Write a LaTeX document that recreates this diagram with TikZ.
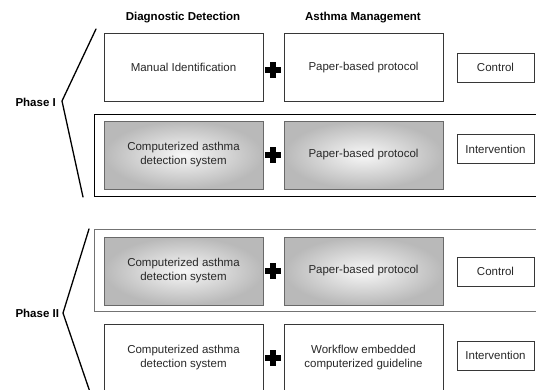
\documentclass[tikz,border=0pt]{standalone}
\usepackage{fontspec}
\setmainfont{Liberation Sans}
\usetikzlibrary{shapes.misc}
\definecolor{boxborder}{RGB}{55,55,55}
\definecolor{shadeborder}{RGB}{105,105,105}
\definecolor{framegray}{RGB}{115,115,115}
\definecolor{textgray}{RGB}{40,40,40}

\begin{document}
\begin{tikzpicture}[
        x=1pt, y=-1pt,
        every node/.style={align=center, font=\fontsize{11.5}{14}\selectfont},
        heading/.style={font=\fontsize{11.5}{14}\selectfont\bfseries, text=black},
        plain/.style={rectangle, draw=boxborder, fill=white, line width=0.8pt,
                      minimum width=159pt, minimum height=68pt, text=textgray},
        shaded/.style={plain, draw=shadeborder, inner color=gray!6, outer color=gray!55},
        arm/.style={rectangle, draw=boxborder, fill=white, line width=0.8pt,
                    minimum width=77pt, minimum height=29pt, text=textgray},
        plussign/.style={cross out, draw=black, line width=5.5pt, rotate=45,
                         minimum size=11pt, inner sep=0pt, outer sep=0pt},
        bracket/.style={line width=1.3pt, line join=round, line cap=round},
        frame/.style={line width=0.9pt}
    ]
        \useasboundingbox (0,0) rectangle (536,389);
        \clip (0,0) rectangle (536,389);

        % Column headings
        \node [heading] (diagtitle) at (183,18) {Diagnostic Detection};
        \node [heading] (mgmttitle) at (363,18) {Asthma Management};

        % Phase I
        \node [heading, anchor=west] (phaseone) at (12,102) {Phase I};
        \draw[bracket] (96,29) -- (62,101) -- (83,197);

        \node [plain] (manual) at (183.5,67) {Manual Identification};
        \node [plussign] (plusone) at (273,70) {};
        \node [plain] (paperone) at (363.5,67.5) {Paper-based protocol};
        \node [arm] (controlone) at (495.5,67.5) {Control};

        \draw[frame, black] (94.5,114.5) rectangle (545,196);
        \node [shaded] (detectone) at (183.5,155) {Computerized asthma\\detection system};
        \node [plussign] (plustwo) at (273,155) {};
        \node [shaded] (papertwo) at (363.5,155) {Paper-based protocol};
        \node [arm] (interventionone) at (495.5,149) {Intervention};

        % Phase II
        \node [heading, anchor=west] (phasetwo) at (12,313) {Phase II};
        \draw[bracket] (89,229) -- (63,313) -- (91,395);

        \draw[frame, framegray] (94.5,229.5) rectangle (545,311.5);
        \node [shaded] (detecttwo) at (183.5,271) {Computerized asthma\\detection system};
        \node [plussign] (plusthree) at (273,271) {};
        \node [shaded] (paperthree) at (363.5,271) {Paper-based protocol};
        \node [arm] (controltwo) at (495.5,271.5) {Control};

        \node [plain] (detectthree) at (183.5,358) {Computerized asthma\\detection system};
        \node [plussign] (plusfour) at (273,358) {};
        \node [plain] (workflow) at (363.5,358) {Workflow embedded\\computerized guideline};
        \node [arm] (interventiontwo) at (495.5,355.5) {Intervention};
    \end{tikzpicture}
\end{document}
